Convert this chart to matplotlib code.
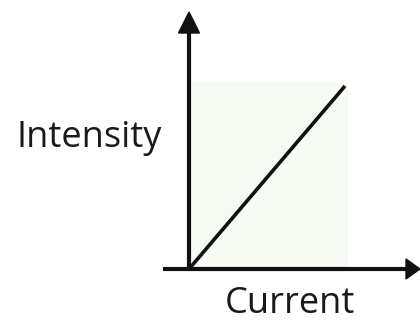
import matplotlib
matplotlib.use("Agg")
import matplotlib.pyplot as plt
from matplotlib.patches import Polygon

# Data
current = [0.0, 1.0]
intensity = [0.0, 1.0]
x_label = "Current"
y_label = "Intensity"

W, H = 420, 324
fig = plt.figure(figsize=(W / 100, H / 100), dpi=100)

# data axes (light green panel)
x0, y0 = 189, 269   # origin in pixels
x1, y1 = 348, 82    # top-right of panel in pixels
ax = fig.add_axes([x0 / W, (H - y0) / H, (x1 - x0) / W, (y0 - y1) / H])
ax.set_facecolor("#f6fbf3")
for s in ax.spines.values():
    s.set_visible(False)
ax.set_xticks([])
ax.set_yticks([])
ax.plot(current, intensity, color="#111111", lw=2.6, solid_capstyle="butt")
ax.set_xlim(0, (x1 - x0) / (345 - x0))
ax.set_ylim(0, (y0 - y1) / (y0 - 86))

# overlay for arrows/labels, in pixel coordinates
ov = fig.add_axes([0, 0, 1, 1], facecolor="none")
ov.set_xlim(0, W)
ov.set_ylim(H, 0)
ov.axis("off")
k = "#111111"
ov.plot([x0, x0], [y0 + 1, 30], color=k, lw=3.0, solid_capstyle="butt")
ov.add_patch(Polygon([[x0 - 10.5, 33], [x0 + 10.5, 33], [x0, 12]], closed=True, color=k))
ov.plot([163, 408], [y0, y0], color=k, lw=3.0, solid_capstyle="butt")
ov.add_patch(Polygon([[406, y0 - 10], [406, y0 + 10], [420, y0]], closed=True, color=k))

ov.text(89, 147, y_label, ha="center", va="baseline", fontsize=26,
        family=["Open Sans", "DejaVu Sans"], color="#1a1a1a")
ov.text(290, 322, x_label, ha="center", va="bottom", fontsize=26,
        family=["Open Sans", "DejaVu Sans"], color="#1a1a1a")

fig.savefig("out.png", dpi=100)
